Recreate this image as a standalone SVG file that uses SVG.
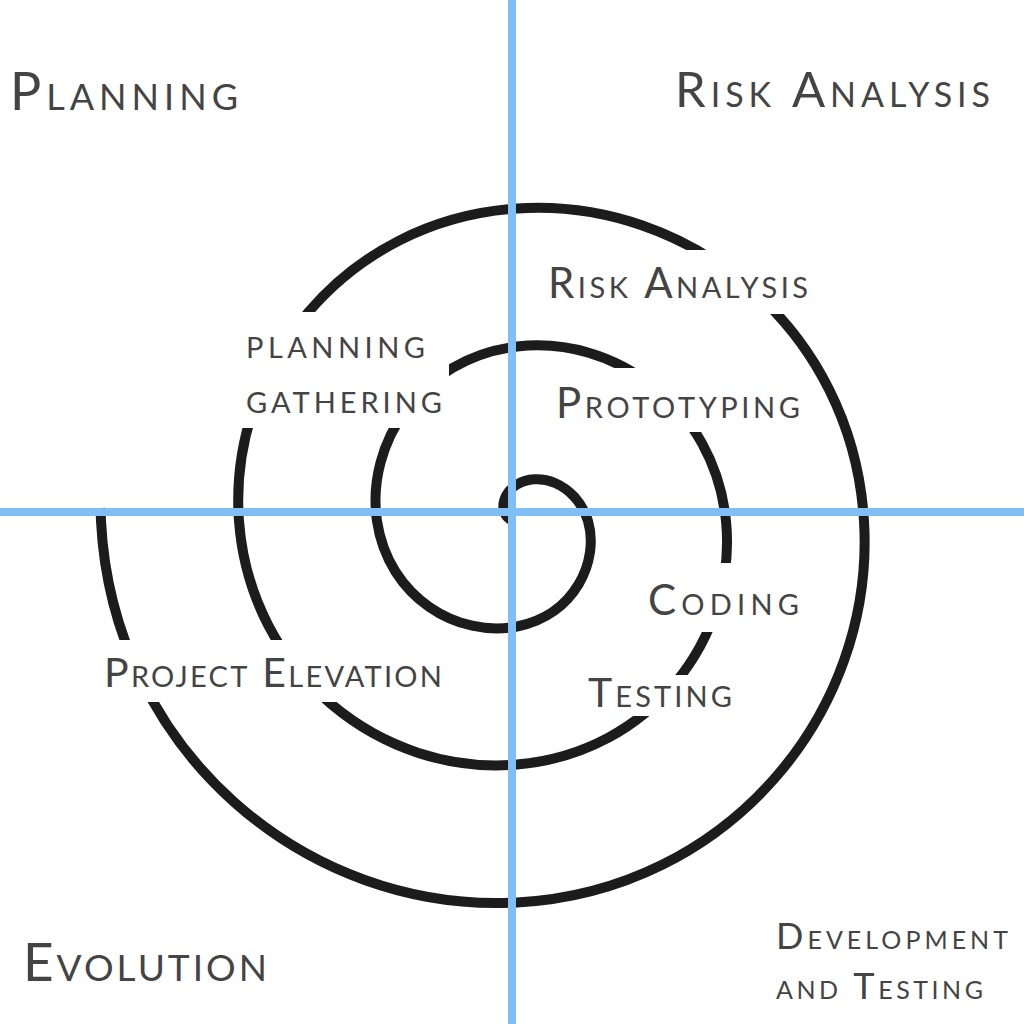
<svg xmlns="http://www.w3.org/2000/svg" width="1024" height="1024" viewBox="0 0 1024 1024">
  <style>
    .lbl { font-family: "Lato", "Open Sans", sans-serif; font-variant: small-caps; fill: #444444; }
    .spiral { fill: none; stroke: #1c1c1c; stroke-width: 10; stroke-linecap: butt; stroke-linejoin: round; }
    .axis { stroke: #80bff6; stroke-width: 8; fill: none; }
  </style>
  <defs>
    <mask id="gaps" maskUnits="userSpaceOnUse" x="0" y="0" width="1024" height="1024">
      <rect x="0" y="0" width="1024" height="1024" fill="#fff"/>
      <rect x="236" y="312" width="213" height="116" fill="#000"/>
      <rect x="540" y="250" width="280" height="64" fill="#000"/>
      <rect x="545" y="368" width="262" height="64" fill="#000"/>
      <rect x="640" y="563" width="170" height="69" fill="#000"/>
      <rect x="580" y="675" width="160" height="41" fill="#000"/>
      <rect x="95" y="640" width="355" height="62" fill="#000"/>
    </mask>
  </defs>
  <rect x="0" y="0" width="1024" height="1024" fill="#ffffff"/>

  <g id="connectors">
    <path id="spiral" class="spiral" mask="url(#gaps)" d="M515,521 C509.25,520.47 503.83,515.06 503.38,507.38 C502.93,499.70 507.32,490.25 517,484.5 C526.68,478.75 540.85,476.99 555,483 C569.15,489.01 582.25,502.17 588,521 C599.5,560.21 575.27,615 517,626.5 C458.73,638 388.5,598.32 377,521 C365.5,443.68 420.62,358 517,346.5 C613.38,335 714.5,405.57 726,521 C737.5,636.43 651.49,753 517,764.5 C382.51,776 250.5,674.54 239,521 C227.5,367.46 344.41,220 517,208.5 C689.59,197 852.5,329.35 864,521 C875.5,712.65 727.7,891 517,902.5 C306.3,914 112.5,750.76 101,521 L100.5,508"/>
    <line id="axis-v" class="axis" x1="512" y1="0" x2="512" y2="1024"/>
    <line id="axis-h" class="axis" x1="0" y1="512" x2="1024" y2="512"/>
  </g>

  <g id="quadrant-planning"><text class="lbl" x="10" y="110" font-size="52" textLength="228" lengthAdjust="spacing">Planning</text></g>
  <g id="quadrant-risk"><text class="lbl" x="675" y="107" font-size="49" textLength="315" lengthAdjust="spacing">Risk Analysis</text></g>
  <g id="quadrant-evolution"><text class="lbl" x="23" y="981" font-size="53" textLength="244" lengthAdjust="spacing">Evolution</text></g>
  <g id="quadrant-development">
    <text class="lbl" x="776" y="949" font-size="36" textLength="232" lengthAdjust="spacing">Development</text>
    <text class="lbl" x="776" y="999" font-size="36" textLength="207" lengthAdjust="spacing">and Testing</text>
  </g>

  <g id="step-planning-gathering">
    <text class="lbl" x="246" y="358" font-size="42" textLength="179" lengthAdjust="spacing">planning</text>
    <text class="lbl" x="246" y="413" font-size="42" textLength="196" lengthAdjust="spacing">gathering</text>
  </g>
  <g id="step-risk-analysis"><text class="lbl" x="548" y="298" font-size="42" textLength="260" lengthAdjust="spacing">Risk Analysis</text></g>
  <g id="step-prototyping"><text class="lbl" x="556" y="418" font-size="42" textLength="244" lengthAdjust="spacing">Prototyping</text></g>
  <g id="step-coding"><text class="lbl" x="648" y="615" font-size="42" textLength="151" lengthAdjust="spacing">Coding</text></g>
  <g id="step-testing"><text class="lbl" x="588" y="707" font-size="41" textLength="144" lengthAdjust="spacing">Testing</text></g>
  <g id="step-project-elevation"><text class="lbl" x="104" y="687" font-size="41" textLength="338" lengthAdjust="spacing">Project Elevation</text></g>
</svg>
